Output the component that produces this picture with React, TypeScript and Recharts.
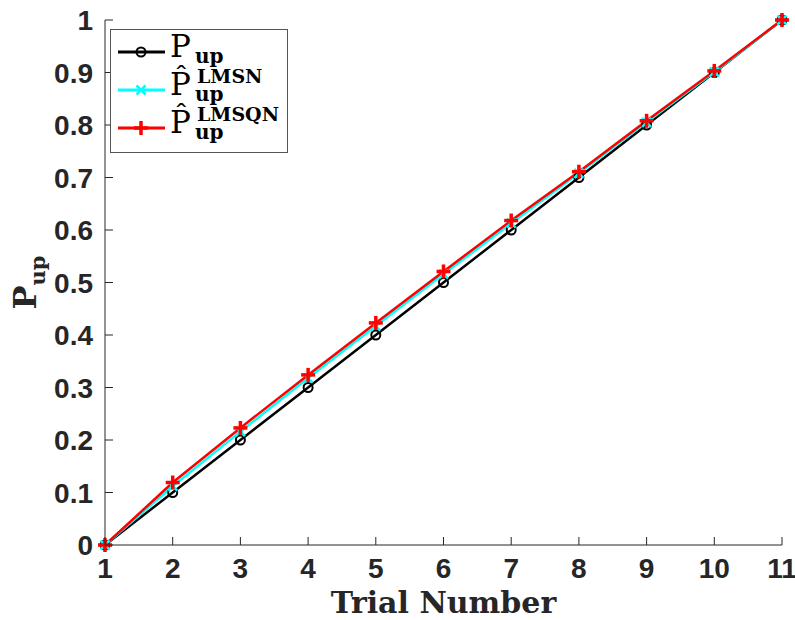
import { LineChart, Line, XAxis, YAxis, Legend } from "recharts";

const trials = [1, 2, 3, 4, 5, 6, 7, 8, 9, 10, 11];
const pUp = [0, 0.1, 0.2, 0.3, 0.4, 0.5, 0.6, 0.7, 0.8, 0.9, 1];
const pHatLmsn = [0, 0.112, 0.216, 0.318, 0.417, 0.516, 0.613, 0.708, 0.805, 0.901, 1];
const pHatLmsqn = [0, 0.119, 0.223, 0.324, 0.423, 0.521, 0.618, 0.711, 0.808, 0.903, 1];
const yTicks = [0, 0.1, 0.2, 0.3, 0.4, 0.5, 0.6, 0.7, 0.8, 0.9, 1];

const data = trials.map((t, i) => ({
  trial: t,
  pUp: pUp[i],
  lmsn: pHatLmsn[i],
  lmsqn: pHatLmsqn[i],
}));

const AXIS = "#262626";
const TICK_FONT = "'Liberation Sans', Arial, sans-serif";
const SERIF = "'DejaVu Serif', serif";
const TICK_LEN = 8;
const TICK_SIZE = 28;

// ticks point inward, so the marks are drawn by hand next to the labels
function BottomTick(props: any) {
  const { x, y, payload } = props;
  const ay = y - 13;
  return (
    <g>
      <line x1={x} y1={ay} x2={x} y2={ay - TICK_LEN} stroke={AXIS} />
      <text x={x} y={y} dy="0.72em" textAnchor="middle" fill={AXIS}
        style={{ fontFamily: TICK_FONT, fontWeight: 700, fontSize: TICK_SIZE }}>
        {payload.value}
      </text>
    </g>
  );
}

function LeftTick(props: any) {
  const { x, y, payload } = props;
  const ax = x + 12;
  return (
    <g>
      <line x1={ax} y1={y} x2={ax + TICK_LEN} y2={y} stroke={AXIS} />
      <text x={x} y={y} dy="0.36em" textAnchor="end" fill={AXIS}
        style={{ fontFamily: TICK_FONT, fontWeight: 700, fontSize: TICK_SIZE }}>
        {payload.value}
      </text>
    </g>
  );
}

function TopTick(props: any) {
  const { x, y } = props;
  return <line x1={x} y1={y} x2={x} y2={y + TICK_LEN} stroke={AXIS} />;
}

function RightTick(props: any) {
  const { x, y } = props;
  return <line x1={x} y1={y} x2={x - TICK_LEN} y2={y} stroke={AXIS} />;
}

function CircleMark({ cx, cy }: { cx: number; cy: number }) {
  return <circle cx={cx} cy={cy} r={4.5} fill="none" stroke="#000" strokeWidth={2} />;
}

function CrossMark({ cx, cy }: { cx: number; cy: number }) {
  const s = 4.5;
  return (
    <g stroke="#00ffff" strokeWidth={2.5}>
      <line x1={cx - s} y1={cy - s} x2={cx + s} y2={cy + s} />
      <line x1={cx - s} y1={cy + s} x2={cx + s} y2={cy - s} />
    </g>
  );
}

function PlusMark({ cx, cy }: { cx: number; cy: number }) {
  const s = 7;
  return (
    <g stroke="#ff0000" strokeWidth={3.5}>
      <line x1={cx - s} y1={cy} x2={cx + s} y2={cy} />
      <line x1={cx} y1={cy - s} x2={cx} y2={cy + s} />
    </g>
  );
}

function LegendBox() {
  const rows = [
    { color: "#000", mark: CircleMark, sup: "" },
    { color: "#00ffff", mark: CrossMark, sup: "LMSN" },
    { color: "#ff0000", mark: PlusMark, sup: "LMSQN" },
  ];
  return (
    <svg width={178} height={124} style={{ display: "block" }}>
      <rect x={0.5} y={0.5} width={177} height={123} fill="#fff" stroke="#555" />
      {rows.map((r, i) => {
        const ry = 23 + i * 38;
        const Mark = r.mark;
        return (
          <g key={i}>
            <line x1={8} y1={ry} x2={55} y2={ry} stroke={r.color} strokeWidth={3} />
            <Mark cx={31} cy={ry} />
            <text x={60} y={ry + 5} fill="#000" style={{ fontFamily: SERIF, fontSize: 31 }}>
              {r.sup ? "P\u0302" : "P"}
            </text>
            <text x={85} y={ry + 11} fill="#000"
              style={{ fontFamily: SERIF, fontSize: 20, fontWeight: 700 }}>
              up
            </text>
            {r.sup && (
              <text x={87} y={ry - 7} fill="#000"
                style={{ fontFamily: SERIF, fontSize: 19, fontWeight: 700 }}>
                {r.sup}
              </text>
            )}
          </g>
        );
      })}
    </svg>
  );
}

function YTitle(props: any) {
  const vb = props.viewBox;
  const cy = vb.y + vb.height / 2;
  return (
    <text transform={`translate(36, ${cy}) rotate(-90)`} textAnchor="middle" fill={AXIS}
      style={{ fontFamily: SERIF, fontWeight: 700, fontSize: 32 }}>
      P
      <tspan dy={9} style={{ fontSize: 21 }}>up</tspan>
    </text>
  );
}

function XTitle(props: any) {
  const vb = props.viewBox;
  return (
    <text x={vb.x + vb.width / 2} y={613} textAnchor="middle" fill={AXIS}
      style={{ fontFamily: SERIF, fontWeight: 700, fontSize: 30 }}>
      Trial Number
    </text>
  );
}

export default function App() {
  return (
    <div style={{ position: "absolute", left: 0, top: 0, width: 795, height: 620, background: "#fff" }}>
      <LineChart width={795} height={620} data={data}
        margin={{ top: 20, right: 13, bottom: 0, left: 0 }}>
        <XAxis xAxisId="b" dataKey="trial" type="number" domain={[1, 11]} ticks={trials}
          height={75} tickSize={0} tickMargin={13} tick={<BottomTick />}
          axisLine={{ stroke: AXIS }} tickLine={false}
          label={{ content: <XTitle /> }} />
        <XAxis xAxisId="t" orientation="top" dataKey="trial" type="number" domain={[1, 11]}
          ticks={trials} height={0} tickSize={0} tickMargin={0} tick={<TopTick />}
          axisLine={{ stroke: AXIS }} tickLine={false} />
        <YAxis yAxisId="l" type="number" domain={[0, 1]} ticks={yTicks} width={105}
          tickSize={0} tickMargin={12} tick={<LeftTick />} axisLine={{ stroke: AXIS }}
          tickLine={false} label={{ content: <YTitle /> }} />
        <YAxis yAxisId="r" orientation="right" type="number" domain={[0, 1]} ticks={yTicks}
          width={0} tickSize={0} tickMargin={0} tick={<RightTick />}
          axisLine={{ stroke: AXIS }} tickLine={false} />
        <Legend layout="vertical" align="center" verticalAlign="middle"
          wrapperStyle={{ left: 110, top: 29, width: 178, height: 124 }}
          content={() => <LegendBox />} />
        <Line xAxisId="b" yAxisId="l" dataKey="pUp" stroke="#000" strokeWidth={2.5}
          isAnimationActive={false}
          dot={(p: any) => <CircleMark key={`c${p.index}`} cx={p.cx} cy={p.cy} />} />
        <Line xAxisId="b" yAxisId="l" dataKey="lmsn" stroke="#00ffff" strokeWidth={2.5}
          isAnimationActive={false}
          dot={(p: any) => <CrossMark key={`x${p.index}`} cx={p.cx} cy={p.cy} />} />
        <Line xAxisId="b" yAxisId="l" dataKey="lmsqn" stroke="#ff0000" strokeWidth={2.5}
          isAnimationActive={false}
          dot={(p: any) => <PlusMark key={`p${p.index}`} cx={p.cx} cy={p.cy} />} />
      </LineChart>
    </div>
  );
}
